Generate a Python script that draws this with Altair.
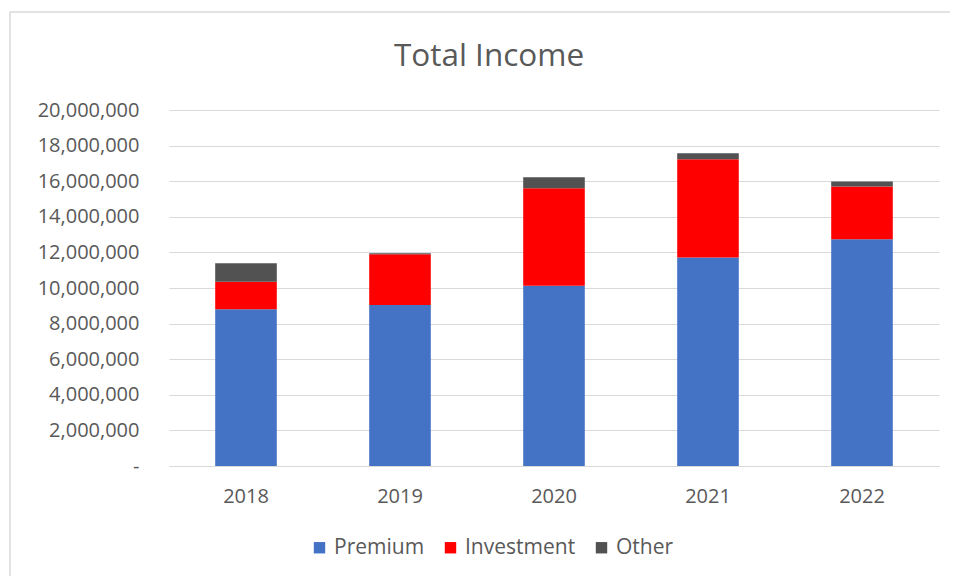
import altair as alt
import pandas as pd

years = ["2018", "2019", "2020", "2021", "2022"]
premium = [8800000, 9040000, 10130000, 11720000, 12740000]
investment = [1550000, 2860000, 5470000, 5510000, 2960000]
other = [1040000, 50000, 620000, 340000, 280000]
series = ["Premium", "Investment", "Other"]
colors = ["#4472C4", "#FF0000", "#525252"]
chart_title = "Total Income"

rows = []
for i, y in enumerate(years):
    for k, (name, vals) in enumerate(zip(series, [premium, investment, other])):
        rows.append({"Year": y, "Type": name, "Value": vals[i], "order": k})
df = pd.DataFrame(rows)

FONT = "Open Sans"
TXT = "#595959"

bars = alt.Chart(df).mark_bar().encode(
    x=alt.X("Year:N", title=None,
            scale=alt.Scale(paddingInner=0.6, paddingOuter=0.3),
            axis=alt.Axis(labelAngle=0, ticks=False, domainColor="#d9d9d9",
                          labelPadding=20, labelFontSize=20, labelColor=TXT,
                          labelFont=FONT, grid=False)),
    y=alt.Y("sum(Value):Q", title=None,
            scale=alt.Scale(domain=[0, 20000000]),
            axis=alt.Axis(values=list(range(0, 20000001, 2000000)),
                          labelExpr="datum.value == 0 ? '-\u00a0\u00a0' : format(datum.value, ',')",
                          ticks=False, domain=False, gridColor="#d9d9d9",
                          labelPadding=30, labelFontSize=20, labelColor=TXT,
                          labelFont=FONT)),
    color=alt.Color("Type:N", scale=alt.Scale(domain=series, range=colors),
                    legend=alt.Legend(title=None, orient="none", direction="horizontal",
                                      legendX=140, legendY=427, symbolType="square",
                                      symbolSize=130, symbolStrokeWidth=0,
                                      labelFontSize=21, labelColor=TXT, labelFont=FONT,
                                      labelOffset=4, columnPadding=15)),
    order=alt.Order("order:Q"),
)

frame = alt.Chart(alt.Data(values=[{}])).mark_rect(
    fill=None, stroke="#d9d9d9", strokeWidth=1.5
).encode(x=alt.value(-159), y=alt.value(-98), x2=alt.value(1000), y2=alt.value(700))

title = alt.Chart(alt.Data(values=[{"t": chart_title}])).mark_text(
    font=FONT, fontSize=31.5, color=TXT, align="center", baseline="middle"
).encode(text="t:N", x=alt.value(320), y=alt.value(-53))

chart = alt.layer(frame, title, bars).properties(
    width=770, height=356,
    autosize=alt.AutoSizeParams(type="none"),
    padding={"left": 161, "top": 102, "right": 11, "bottom": 110},
).configure_view(stroke=None)

chart.save("out.html", embed_options={"renderer": "svg", "actions": False})
